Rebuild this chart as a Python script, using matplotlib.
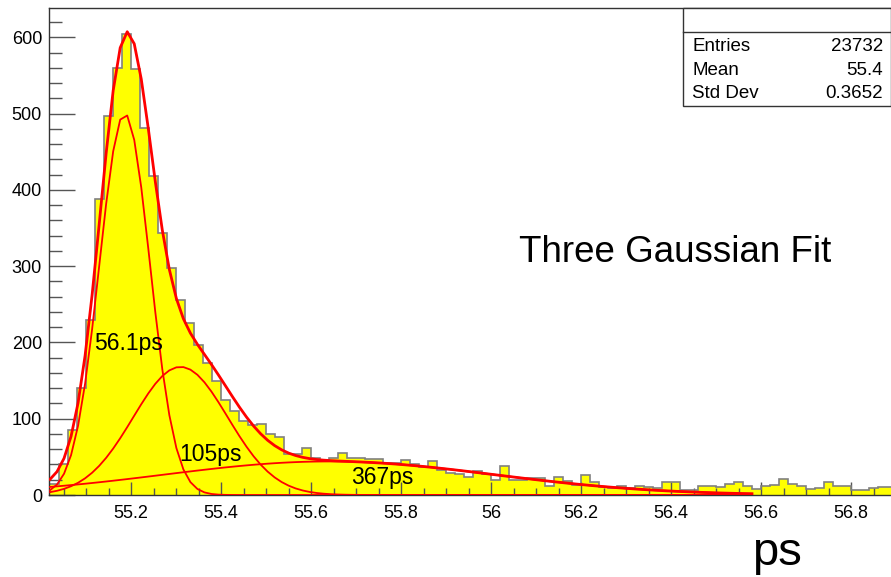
import numpy as np
import matplotlib
matplotlib.use("Agg")
import matplotlib.pyplot as plt
from matplotlib.patches import Rectangle
from matplotlib.lines import Line2D
from matplotlib.ticker import MultipleLocator

plt.rcParams['font.family'] = ['Liberation Sans', 'DejaVu Sans']

# ---- histogram contents (bin width 0.02, first bin starts at 55.02) ----
bin_start = 55.02
bin_width = 0.02
counts = [
    14, 41, 85, 140, 229, 388, 497, 560, 605, 558,
    481, 418, 344, 298, 256, 226, 196, 173, 150, 125,
    110, 97, 92, 93, 80, 76, 54, 54, 61, 49,
    46, 49, 55, 49, 49, 47, 47, 42, 42, 46,
    41, 37, 45, 33, 29, 28, 24, 32, 28, 20,
    38, 20, 20, 22, 22, 12, 23, 18, 13, 26,
    17, 10, 9, 12, 9, 12, 10, 9, 17, 17,
    6, 6, 12, 12, 11, 15, 17, 12, 8, 12,
    13, 21, 14, 12, 8, 9, 17, 12, 12, 6,
    6, 9, 11, 11,
]

# ---- three-Gaussian fit: amplitude, mean, sigma of each component ----
amps = [500.0, 168.0, 44.0]
means = [55.186, 55.31, 55.64]
sigmas = [0.0561, 0.105, 0.367]
fit_range = (55.02, 56.58)
fit_npx = 100

# label anchor (x, baseline y) for each component's width label
label_pos = [(55.118, 190), (55.307, 45), (55.69, 14)]

stats_names = ["Entries", "Mean", "Std Dev"]
stats_values = ["23732", "55.4", "0.3652"]

W, H = 891, 577
fig = plt.figure(figsize=(W / 100, H / 100), dpi=100)
ax = fig.add_axes([49 / W, 1 - 495 / H, 1 - 49 / W, (495 - 8) / H])

edges = bin_start + bin_width * np.arange(len(counts) + 1)
ax.stairs(counts, edges, fill=True, facecolor='#ffff00', edgecolor='none', zorder=1)
ax.stairs(counts, edges, baseline=None, color='#808080', lw=1.2, zorder=2)


def gauss(x, a, m, s):
    return a * np.exp(-0.5 * ((x - m) / s) ** 2)


xs = np.linspace(fit_range[0], fit_range[1], fit_npx + 1)
total = np.zeros_like(xs)
for a, m, s in zip(amps, means, sigmas):
    comp = gauss(xs, a, m, s)
    total += comp
    ax.plot(xs, comp, color='#ff0000', lw=1.3, zorder=3)
ax.plot(xs, total, color='#ff0000', lw=2.0, zorder=4)

for (lx, ly), s in zip(label_pos, sigmas):
    ax.text(lx, ly, f"{s * 1000:.3g}ps", fontsize=16.5, ha='left', va='baseline',
            color='black', zorder=5)

ax.set_xlim(56 + (49 - 491) / 450, 56 + (891 - 491) / 450)
ax.set_ylim(0, (495 - 8) / 0.7628)

ax.xaxis.set_major_locator(MultipleLocator(0.2))
ax.xaxis.set_minor_locator(MultipleLocator(0.05))
ax.yaxis.set_major_locator(MultipleLocator(100))
ax.yaxis.set_minor_locator(MultipleLocator(20))
ax.xaxis.set_major_formatter(matplotlib.ticker.FuncFormatter(
    lambda v, p: f"{v:g}" if v > 55.1 else ""))
ax.tick_params(axis='y', which='major', direction='in', length=18.5, width=1,
               color='#555555', labelsize=13, pad=5)
ax.tick_params(axis='y', which='minor', direction='in', length=9.3, width=1,
               color='#555555')
ax.tick_params(axis='x', which='major', direction='in', length=9.5, width=1,
               color='#555555', labelsize=13, pad=7)
ax.tick_params(axis='x', which='minor', direction='in', length=5, width=1,
               color='#555555')
for side in ('left', 'bottom', 'top'):
    ax.spines[side].set_color('#333333')
    ax.spines[side].set_linewidth(1.0)
ax.spines['right'].set_visible(False)

fig.text(519 / W, 1 - 262 / H, "Three Gaussian Fit", fontsize=26.5,
         ha='left', va='baseline')
fig.text(752 / W, 1 - 565 / H, "ps", fontsize=34, ha='left', va='baseline')

# statistics box
box_l, box_t, box_b, head_b = 683, 8, 106, 32
fig.patches.append(Rectangle((box_l / W, 1 - box_b / H), (W - box_l) / W,
                             (box_b - box_t) / H, transform=fig.transFigure,
                             facecolor='white', edgecolor='#333333', lw=1.0,
                             zorder=10))
fig.lines.append(Line2D([box_l / W, 1], [1 - head_b / H] * 2,
                        transform=fig.transFigure, color='#333333', lw=1.0,
                        zorder=11))
row_y = [46.5, 70.5, 93.5]
for name, val, ry in zip(stats_names, stats_values, row_y):
    fig.text(692 / W, 1 - ry / H, name, fontsize=13.5, ha='left', va='center',
             zorder=12)
    fig.text(883 / W, 1 - ry / H, val, fontsize=13.5, ha='right', va='center',
             zorder=12)

fig.savefig("out.png", dpi=100)
